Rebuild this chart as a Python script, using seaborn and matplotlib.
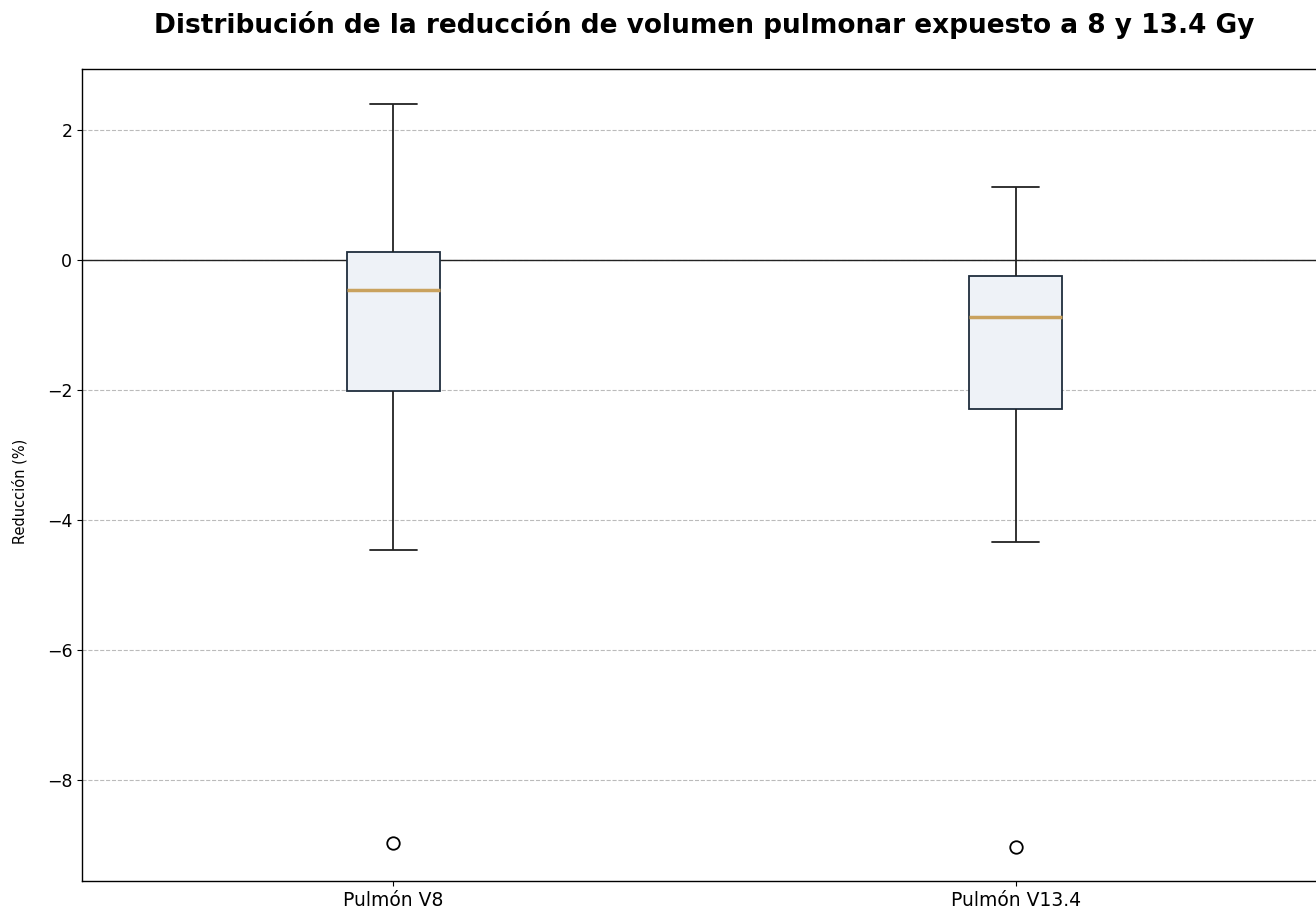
import numpy as np
import pandas as pd
import matplotlib
matplotlib.use("Agg")
import matplotlib.pyplot as plt
import seaborn as sns

# Reducción (%) por métrica
grupos = ["Pulmón V8", "Pulmón V13.4"]
v8 = [-8.97, -4.46, -2.02, -1.30, -0.46, -0.20, 0.12, 1.10, 2.40]
v13 = [-9.03, -4.34, -2.29, -1.60, -0.88, -0.55, -0.25, 0.40, 1.12]

df = pd.DataFrame({
    "grupo": [grupos[0]] * len(v8) + [grupos[1]] * len(v13),
    "reduccion": v8 + v13,
})

sns.set_style("white")
plt.rcParams["font.family"] = ["DejaVu Sans"]
plt.rcParams["text.color"] = "black"
plt.rcParams["axes.labelcolor"] = "black"
plt.rcParams["xtick.color"] = "black"
plt.rcParams["ytick.color"] = "black"

fig = plt.figure(figsize=(13.16, 9.14), dpi=100)
ax = fig.add_axes([82 / 1316, 33 / 914, 1245 / 1316, 812 / 914])

sns.boxplot(
    data=df, x="grupo", y="reduccion", ax=ax, width=0.15,
    color="#eef2f7", saturation=1, linewidth=1.3,
    boxprops=dict(facecolor="#eef2f7", edgecolor="#1f2d3d"),
    medianprops=dict(color="#c9a25e", linewidth=2.5),
    whiskerprops=dict(color="#222222"),
    capprops=dict(color="#222222"),
    flierprops=dict(marker="o", markerfacecolor="white", markeredgecolor="black",
                    markersize=9, markeredgewidth=1.3),
)

ax.axhline(0, color="#222222", linewidth=1, zorder=1)
ax.yaxis.grid(True, linestyle="--", color="#bbbbbb", linewidth=0.8)
ax.set_axisbelow(True)
ax.set_xlim(-0.5, 1.5)
ax.set_ylim(-9.55, 2.94)
ax.set_yticks([-8, -6, -4, -2, 0, 2])
ax.set_yticklabels(["\u22128", "\u22126", "\u22124", "\u22122", "0", "2"])
ax.tick_params(axis="y", labelsize=12.5, length=3.5, left=True)
ax.tick_params(axis="x", labelsize=13.5, length=3.5, bottom=True)
ax.set_xlabel("")
ax.set_ylabel("Reducción (%)", fontsize=10.5)
ax.yaxis.set_label_coords(-0.0434, 0.48)
for s in ax.spines.values():
    s.set_color("black")
    s.set_linewidth(1)

fig.suptitle("Distribución de la reducción de volumen pulmonar expuesto a 8 y 13.4 Gy",
             fontsize=19, fontweight="bold", x=704 / 1316, y=1 - 25 / 914, va="center")

fig.savefig("out.png", dpi=100)
